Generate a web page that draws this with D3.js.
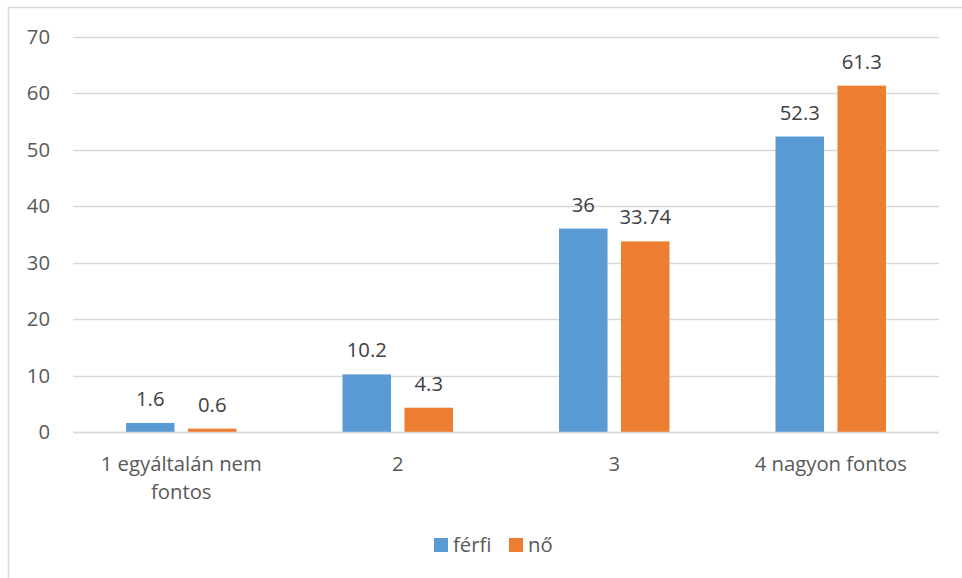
<!DOCTYPE html>
<html><head><meta charset="utf-8">
<script src="https://cdn.jsdelivr.net/npm/d3@7"></script>
<style>html,body{margin:0;padding:0;background:#fff;}svg{display:block;}</style>
</head><body>
<svg id="chart" width="962" height="578"></svg>
<script>
const categories = [["1 egyáltalán nem", "fontos"], ["2"], ["3"], ["4 nagyon fontos"]];
const seriesNames = ["férfi", "nő"];
const ferfi = [1.6, 10.2, 36, 52.3];
const noValues = [0.6, 4.3, 33.74, 61.3];
const yTicks = [0, 10, 20, 30, 40, 50, 60, 70];
const colors = ["#5B9BD5", "#ED7D31"];

const svg = d3.select("#chart");
const font = "'Open Sans', sans-serif";
const fs = 20.3;
const plotLeft = 73, plotRight = 939, plotTop = 36.5, plotBottom = 432;

// chart border (top and left visible)
svg.append("line").attr("x1", 8).attr("x2", 962).attr("y1", 7.5).attr("y2", 7.5).attr("stroke", "#d9d9d9").attr("stroke-width", 1.5);
svg.append("line").attr("x1", 8.5).attr("x2", 8.5).attr("y1", 7).attr("y2", 578).attr("stroke", "#d9d9d9").attr("stroke-width", 1.5);

const catKeys = categories.map(c => c.join(" "));
const x0 = d3.scaleBand().domain(catKeys).range([plotLeft, plotRight]).paddingInner(0).paddingOuter(0);
const x1 = d3.scaleBand().domain(seriesNames).range([53, 163.5]).paddingInner(0.217).paddingOuter(0);
const y = d3.scaleLinear().domain([0, 70]).range([plotBottom, plotTop]);

// gridlines
svg.append("g").selectAll("line").data(yTicks).join("line")
  .attr("x1", plotLeft).attr("x2", plotRight)
  .attr("y1", d => Math.round(y(d)) + 0.5).attr("y2", d => Math.round(y(d)) + 0.5)
  .attr("stroke", "#d9d9d9").attr("stroke-width", 1.5);

// y tick labels
svg.append("g").selectAll("text").data(yTicks).join("text")
  .attr("x", 50).attr("y", d => y(d)).attr("dy", "0.35em")
  .attr("text-anchor", "end").attr("font-family", font).attr("font-size", fs).attr("fill", "#595959")
  .text(d => d);

const data = catKeys.map((k, i) => ({key: k, values: [ferfi[i], noValues[i]]}));

const groups = svg.append("g").selectAll("g").data(data).join("g")
  .attr("transform", d => `translate(${x0(d.key)},0)`);

groups.selectAll("rect").data(d => d.values.map((v, j) => ({s: seriesNames[j], v, j}))).join("rect")
  .attr("x", d => x1(d.s)).attr("width", x1.bandwidth())
  .attr("y", d => y(d.v)).attr("height", d => y(0) - y(d.v))
  .attr("fill", d => colors[d.j]);

groups.selectAll("text.val").data(d => d.values.map((v, j) => ({s: seriesNames[j], v, j}))).join("text")
  .attr("class", "val")
  .attr("x", d => x1(d.s) + x1.bandwidth() / 2).attr("y", d => y(d.v) - 17)
  .attr("text-anchor", "middle").attr("font-family", font).attr("font-size", fs).attr("fill", "#404040")
  .text(d => d.v);

// redraw baseline over bars
svg.append("line").attr("x1", plotLeft).attr("x2", plotRight).attr("y1", Math.round(y(0)) + 0.5).attr("y2", Math.round(y(0)) + 0.5)
  .attr("stroke", "#d9d9d9").attr("stroke-width", 1.5);

// category labels
const catG = svg.append("g").selectAll("text").data(categories).join("text")
  .attr("x", (d, i) => x0(catKeys[i]) + x0.bandwidth() / 2)
  .attr("y", 471)
  .attr("text-anchor", "middle").attr("font-family", font).attr("font-size", fs).attr("fill", "#595959");
catG.selectAll("tspan").data(d => d).join("tspan")
  .attr("x", function() { return d3.select(this.parentNode).attr("x"); })
  .attr("dy", (d, i) => i === 0 ? 0 : 28)
  .text(d => d);

// legend
const legendItems = [{name: seriesNames[0], x: 434, c: colors[0]}, {name: seriesNames[1], x: 509, c: colors[1]}];
const lg = svg.append("g").selectAll("g").data(legendItems).join("g");
lg.append("rect").attr("x", d => d.x).attr("y", 538).attr("width", 14).attr("height", 14).attr("fill", d => d.c);
lg.append("text").attr("x", d => d.x + 19).attr("y", 552)
  .attr("font-family", font).attr("font-size", fs).attr("fill", "#595959").text(d => d.name);
</script>
</body></html>
